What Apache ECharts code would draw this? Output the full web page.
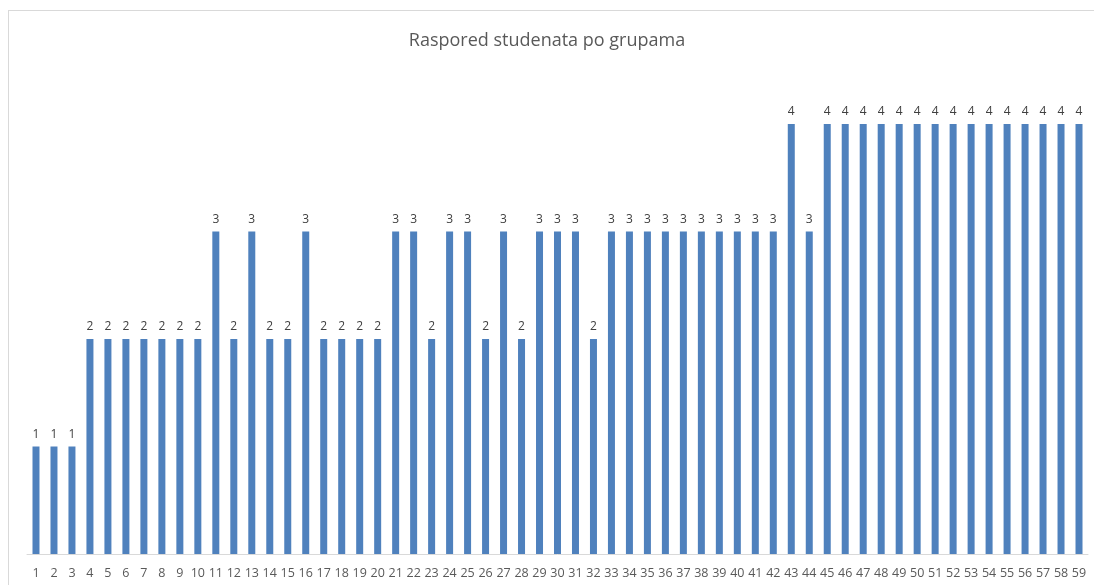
<!DOCTYPE html>
<html>
<head>
<meta charset="utf-8">
<script src="https://cdn.jsdelivr.net/npm/echarts@6/dist/echarts.min.js"></script>
<style>
  body { margin: 0; background: #fff; overflow: hidden; }
  #frame { position: absolute; left: 8px; top: 10px; width: 1100px; height: 600px; border: 1px solid #d9d9d9; }
  #main { position: absolute; left: 0; top: 0; width: 1094px; height: 585px; }
</style>
</head>
<body>
<div id="frame"></div>
<div id="main"></div>
<script>
  // studenti 1..59 i grupa u kojoj je svaki
  var studenti = [];
  for (var i = 1; i <= 59; i++) studenti.push(String(i));
  var grupe = [1,1,1,2,2,2,2,2,2,2,
               3,2,3,2,2,3,2,2,2,2,
               3,3,2,3,3,2,3,2,3,3,
               3,2,3,3,3,3,3,3,3,3,
               3,3,4,3,4,4,4,4,4,4,
               4,4,4,4,4,4,4,4,4];

  var myChart = echarts.init(document.getElementById('main'));
  myChart.setOption({
    animation: false,
    title: {
      text: 'Raspored studenata po grupama',
      left: 'center',
      top: 27,
      textStyle: { fontFamily: 'Open Sans', fontSize: 18, fontWeight: 'normal', color: '#595959' }
    },
    grid: { left: 27, right: 6, top: 124, bottom: 31 },
    xAxis: {
      type: 'category',
      data: studenti,
      axisLine: { lineStyle: { color: '#d9d9d9', width: 1 } },
      axisTick: { show: false },
      axisLabel: { interval: 0, color: '#595959', fontFamily: 'Open Sans', fontSize: 12.5, margin: 13 }
    },
    yAxis: {
      type: 'value',
      min: 0,
      max: 4,
      show: false
    },
    series: [{
      type: 'bar',
      data: grupe,
      barWidth: 7,
      itemStyle: { color: '#4f81bd' },
      label: {
        show: true,
        position: 'top',
        distance: 6,
        color: '#404040',
        fontFamily: 'Open Sans',
        fontSize: 12
      }
    }]
  });
</script>
</body>
</html>
